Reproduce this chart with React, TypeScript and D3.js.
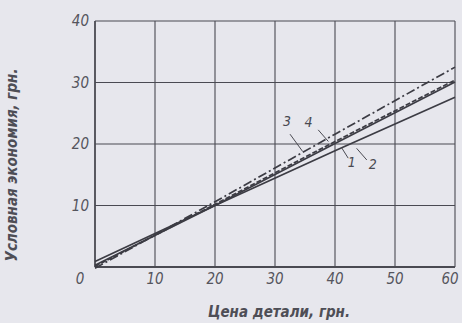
import React, { useRef, useEffect } from 'react';
import * as d3 from 'd3';

// цена детали, грн
const prices = [0, 20, 40, 60];
// условная экономия по кривым 1..4
const curve1 = [0.3, 10.0, 20.1, 30.1];
const curve2 = [0.9, 10.0, 18.9, 27.6];
const curve3 = [-0.2, 10.6, 21.6, 32.5];
const curve4 = [0.1, 10.2, 20.4, 30.4];
const curveNames = ['1', '2', '3', '4'];
const xTicks = [0, 10, 20, 30, 40, 50, 60];
const yTicks = [10, 20, 30, 40];
// подписи кривых: положение текста и выноски (в единицах графика)
const labelPos = [[42.8, 16.3], [46.3, 16.0], [32.0, 23.0], [35.6, 22.8]];
const leaderFrom = [[42.2, 17.7], [45.3, 17.4], [32.5, 21.6], [37.2, 22.3]];
const leaderTo = [[41.1, 19.4], [43.6, 19.3], [34.6, 18.8], [38.9, 20.4]];

const W = 462, H = 323;
const margin = { top: 21, right: 7, bottom: 56, left: 95 };
const ink = '#4a4a52';
const font = '"DejaVu Sans Condensed", "Liberation Sans Narrow", sans-serif';

const App = () => {
    const svgref = useRef<SVGSVGElement>(null);

    useEffect(() => {
        const svg = d3.select(svgref.current);
        svg.selectAll('*').remove();

        const x = d3.scaleLinear().domain([0, 60]).range([margin.left, W - margin.right]);
        const y = d3.scaleLinear().domain([0, 40]).range([H - margin.bottom, margin.top]);

        // paper
        svg.append('rect').attr('width', W).attr('height', H).attr('fill', '#e7e7ed');

        // grid
        const g = svg.append('g');
        g.selectAll('line.v')
            .data(xTicks)
            .join('line')
            .attr('x1', (d) => x(d)).attr('x2', (d) => x(d))
            .attr('y1', y(0)).attr('y2', y(40))
            .attr('stroke', ink).attr('stroke-width', (d) => (d === 0 ? 1.8 : 1.1));
        g.selectAll('line.h')
            .data([0, ...yTicks])
            .join('line')
            .attr('class', 'h')
            .attr('x1', x(0)).attr('x2', x(60))
            .attr('y1', (d) => y(d)).attr('y2', (d) => y(d))
            .attr('stroke', ink).attr('stroke-width', (d) => (d === 0 ? 1.8 : 1.1));

        // tick labels (0 sits in the corner, 60 pulled in from the edge)
        svg.selectAll('text.xt')
            .data(xTicks)
            .join('text')
            .attr('class', 'xt')
            .attr('x', (d) => (d === 0 ? x(0) - 15 : d === 60 ? x(d) - 5 : x(d)))
            .attr('y', y(0) + 17)
            .attr('text-anchor', 'middle')
            .attr('font-family', font).attr('font-style', 'italic').attr('font-size', 15)
            .attr('fill', '#55555d')
            .text((d) => d);
        svg.selectAll('text.yt')
            .data(yTicks)
            .join('text')
            .attr('class', 'yt')
            .attr('x', x(0) - 6)
            .attr('y', (d) => y(d) + 5)
            .attr('text-anchor', 'end')
            .attr('font-family', font).attr('font-style', 'italic').attr('font-size', 15)
            .attr('fill', '#55555d')
            .text((d) => d);

        // curves
        const series = [curve1, curve2, curve3, curve4];
        const dashes = ['none', 'none', '9 3 2 3', '5 2'];
        const line = d3.line<number>()
            .x((_, i) => x(prices[i]))
            .y((d) => y(d));
        series.forEach((s, i) => {
            svg.append('path')
                .attr('d', line(s))
                .attr('fill', 'none')
                .attr('stroke', '#3c3c44')
                .attr('stroke-width', 1.7)
                .attr('stroke-dasharray', dashes[i]);
        });

        // curve labels with leaders
        curveNames.forEach((n, i) => {
            svg.append('line')
                .attr('x1', x(leaderFrom[i][0])).attr('y1', y(leaderFrom[i][1]))
                .attr('x2', x(leaderTo[i][0])).attr('y2', y(leaderTo[i][1]))
                .attr('stroke', ink).attr('stroke-width', 1);
            svg.append('text')
                .attr('x', x(labelPos[i][0])).attr('y', y(labelPos[i][1]))
                .attr('text-anchor', 'middle')
                .attr('font-family', font).attr('font-style', 'italic').attr('font-size', 14)
                .attr('fill', '#4a4a52')
                .text(n);
        });

        // axis titles
        svg.append('text')
            .attr('transform', `translate(17, 165) rotate(-90)`)
            .attr('text-anchor', 'middle')
            .attr('font-family', font).attr('font-style', 'italic').attr('font-weight', 'bold')
            .attr('font-size', 15).attr('fill', '#4e4e56')
            .text('Условная экономия, грн.');
        svg.append('text')
            .attr('x', 279).attr('y', 317)
            .attr('text-anchor', 'middle')
            .attr('font-family', font).attr('font-style', 'italic').attr('font-weight', 'bold')
            .attr('font-size', 15).attr('fill', '#4e4e56')
            .text('Цена детали, грн.');
    }, []);

    return (
        <div style={{ position: 'fixed', left: 0, top: 0 }}>
            <svg ref={svgref} width={W} height={H}></svg>
        </div>
    );
};

export default App;
